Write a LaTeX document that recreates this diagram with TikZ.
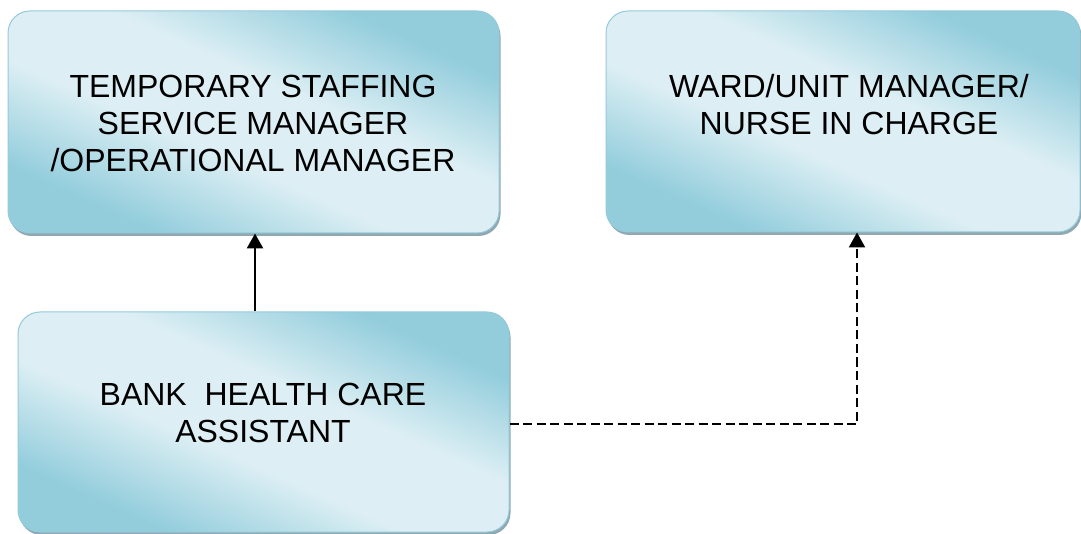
\documentclass[tikz,border=0pt]{standalone}
\usepackage{fontspec}
\setmainfont{Liberation Sans}
\usetikzlibrary{arrows.meta,shadows}
\definecolor{boxdark}{HTML}{93CDDC}
\definecolor{boxlight}{HTML}{DDEFF4}
\definecolor{boxline}{HTML}{95CADA}
\definecolor{shadowc}{HTML}{8FA8B1}
\pgfdeclareverticalshading{boxshade}{100bp}{color(0bp)=(boxdark); color(27bp)=(boxdark); color(43bp)=(boxlight); color(57bp)=(boxlight); color(73bp)=(boxdark); color(100bp)=(boxdark)}
\tikzset{
  orgbox/.style={rectangle, rounded corners=22pt, draw=boxline, line width=1pt,
    shading=boxshade, shading angle=-24,
    general shadow={fill=shadowc, shadow xshift=1.5pt, shadow yshift=-3pt},
    inner sep=0pt},
  boxtext/.style={align=center, anchor=north, inner sep=0pt,
    font=\fontsize{32}{37}\selectfont},
  conn/.style={line width=2.5pt, -{Triangle[width=16pt,length=15pt]}},
  dconn/.style={conn, line width=2.2pt, dash pattern=on 9pt off 4.5pt}
}
\begin{document}
\begin{tikzpicture}[x=1pt,y=-1pt]
\useasboundingbox (0,0) rectangle (1081,534);
\node[orgbox, minimum width=491pt, minimum height=222pt] (a) at (253.5,122) {};
\node[orgbox, minimum width=474pt, minimum height=221pt] (b) at (843,121.5) {};
\node[orgbox, minimum width=491pt, minimum height=220pt] (c) at (263.5,422) {};
\node[boxtext] (ta) at (253,75) {TEMPORARY STAFFING\\SERVICE MANAGER\\/OPERATIONAL MANAGER};
\node[boxtext] (tb) at (849,74.5) {WARD/UNIT MANAGER/\\NURSE IN CHARGE};
\node[boxtext] (tc) at (263,383) {BANK\ \ HEALTH CARE\\ASSISTANT};
\coordinate (sx) at (255,0);
\coordinate (dx) at (857,424);
\draw[conn] (c.north -| sx) -- (a.south -| sx);
\draw[dconn] (c.east |- dx) -- (dx) -- (b.south -| dx);
\end{tikzpicture}
\end{document}
